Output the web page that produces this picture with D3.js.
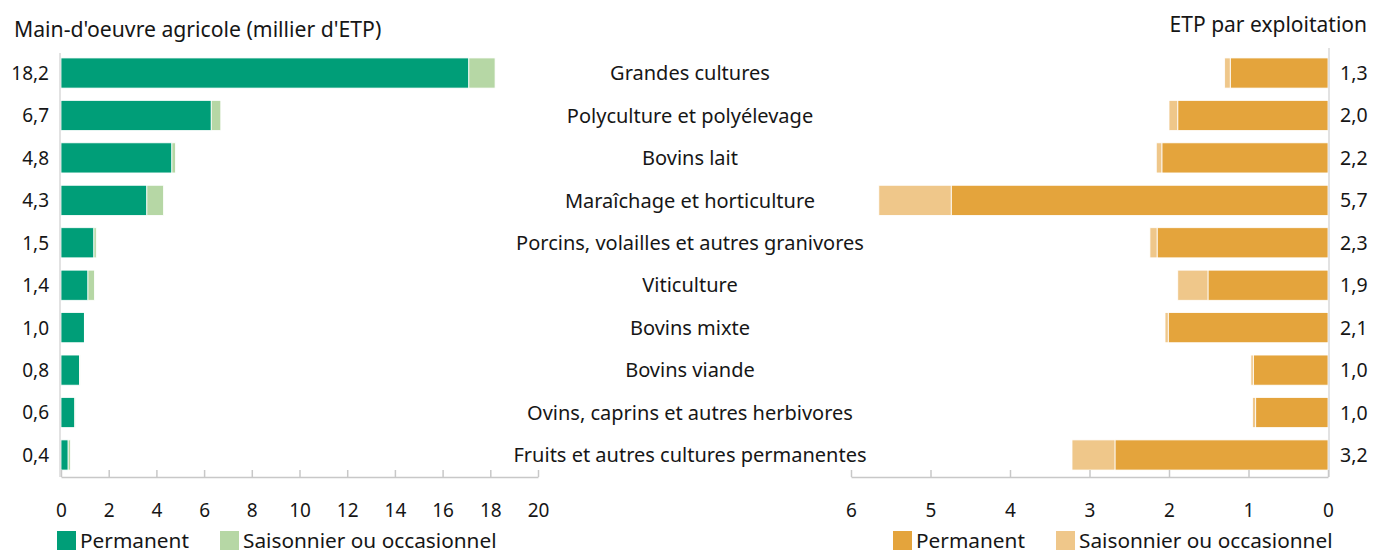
<!DOCTYPE html>
<html>
<head>
<meta charset="utf-8">
<script src="https://cdn.jsdelivr.net/npm/d3@7"></script>
<style>
  body { margin: 0; background: #fff; }
  svg { display: block; font-family: "Noto Sans", sans-serif; }
  text { fill: #161616; }
</style>
</head>
<body>
<div id="chart"></div>
<script>
// data
var categories = [
  "Grandes cultures",
  "Polyculture et polyélevage",
  "Bovins lait",
  "Maraîchage et horticulture",
  "Porcins, volailles et autres granivores",
  "Viticulture",
  "Bovins mixte",
  "Bovins viande",
  "Ovins, caprins et autres herbivores",
  "Fruits et autres cultures permanentes"
];
// main-d'oeuvre (millier d'ETP)
var mainPerm = [17.1, 6.3, 4.65, 3.6, 1.38, 1.13, 0.98, 0.78, 0.58, 0.3];
var mainSais = [1.1, 0.4, 0.15, 0.7, 0.1, 0.27, 0.02, 0.02, 0.02, 0.1];
var mainLabels = ["18,2", "6,7", "4,8", "4,3", "1,5", "1,4", "1,0", "0,8", "0,6", "0,4"];
// ETP par exploitation
var etpPerm = [1.23, 1.89, 2.09, 4.74, 2.15, 1.51, 2.01, 0.94, 0.91, 2.68];
var etpSais = [0.07, 0.11, 0.07, 0.91, 0.09, 0.38, 0.04, 0.03, 0.04, 0.54];
var etpLabels = ["1,3", "2,0", "2,2", "5,7", "2,3", "1,9", "2,1", "1,0", "1,0", "3,2"];
var mainTicks = [0, 2, 4, 6, 8, 10, 12, 14, 16, 18, 20];
var etpTicks = [0, 1, 2, 3, 4, 5, 6];
var seriesNames = ["Permanent", "Saisonnier ou occasionnel"];

var W = 1373, H = 552;
var green = ["#009e78", "#b6d7a5"];
var orange = ["#e4a43c", "#efc78a"];

var svg = d3.select("#chart").append("svg")
    .attr("width", W)
    .attr("height", H);

var y = d3.scaleBand()
    .domain(categories)
    .range([51.8, 476.2])
    .paddingInner(0.29)
    .paddingOuter(0.145);

var xL = d3.scaleLinear().domain([0, 20]).range([61, 538]);
var xR = d3.scaleLinear().domain([0, 6]).range([1328, 851]);
var axisY = 477;

// titles
svg.append("text")
    .attr("x", 14).attr("y", 37)
    .style("font-size", "21.2px")
    .text("Main-d'oeuvre agricole (millier d'ETP)");
svg.append("text")
    .attr("x", 1367).attr("y", 32)
    .attr("text-anchor", "end")
    .style("font-size", "21px")
    .text("ETP par exploitation");

// build stacked rows
function rows(perm, sais) {
  return categories.map(function(c, i) {
    return {cat: c, perm: perm[i], sais: sais[i]};
  });
}

// left panel
var left = svg.append("g");
left.selectAll(".perm").data(rows(mainPerm, mainSais)).enter().append("rect")
    .attr("x", xL(0))
    .attr("y", function(d) { return y(d.cat); })
    .attr("width", function(d) { return xL(d.perm) - xL(0); })
    .attr("height", y.bandwidth())
    .attr("fill", green[0])
    .attr("stroke", "#fff").attr("stroke-width", 0.8);
left.selectAll(".sais").data(rows(mainPerm, mainSais)).enter().append("rect")
    .attr("x", function(d) { return xL(d.perm); })
    .attr("y", function(d) { return y(d.cat); })
    .attr("width", function(d) { return xL(d.perm + d.sais) - xL(d.perm); })
    .attr("height", y.bandwidth())
    .attr("fill", green[1])
    .attr("stroke", "#fff").attr("stroke-width", 0.8);

left.append("line")
    .attr("x1", 60).attr("x2", 60)
    .attr("y1", 53).attr("y2", axisY)
    .attr("stroke", "#d9d9d9").attr("stroke-width", 1.5);

left.selectAll(".vlab").data(mainLabels).enter().append("text")
    .attr("x", 49)
    .attr("y", function(d, i) { return y(categories[i]) + y.bandwidth() / 2; })
    .attr("dy", "0.36em")
    .attr("text-anchor", "end")
    .style("font-size", "19px")
    .text(function(d) { return d; });

// right panel
var right = svg.append("g");
right.selectAll(".perm").data(rows(etpPerm, etpSais)).enter().append("rect")
    .attr("x", function(d) { return xR(d.perm); })
    .attr("y", function(d) { return y(d.cat); })
    .attr("width", function(d) { return xR(0) - xR(d.perm); })
    .attr("height", y.bandwidth())
    .attr("fill", orange[0])
    .attr("stroke", "#fff").attr("stroke-width", 0.8);
right.selectAll(".sais").data(rows(etpPerm, etpSais)).enter().append("rect")
    .attr("x", function(d) { return xR(d.perm + d.sais); })
    .attr("y", function(d) { return y(d.cat); })
    .attr("width", function(d) { return xR(d.perm) - xR(d.perm + d.sais); })
    .attr("height", y.bandwidth())
    .attr("fill", orange[1])
    .attr("stroke", "#fff").attr("stroke-width", 0.8);

right.append("line")
    .attr("x1", 1329).attr("x2", 1329)
    .attr("y1", 48).attr("y2", axisY)
    .attr("stroke", "#d9d9d9").attr("stroke-width", 1.5);

right.selectAll(".vlab").data(etpLabels).enter().append("text")
    .attr("x", 1340)
    .attr("y", function(d, i) { return y(categories[i]) + y.bandwidth() / 2; })
    .attr("dy", "0.36em")
    .style("font-size", "19.5px")
    .text(function(d) { return d; });

// category names in the middle
svg.selectAll(".cat").data(categories).enter().append("text")
    .attr("x", 690)
    .attr("y", function(d) { return y(d) + y.bandwidth() / 2; })
    .attr("dy", "0.36em")
    .attr("text-anchor", "middle")
    .style("font-size", "20px")
    .text(function(d) { return d; });

// bottom axes
function styleAxis(g) {
  g.select(".domain").attr("stroke", "#c8c8c8").attr("stroke-width", 1.5);
  g.selectAll(".tick line").attr("stroke", "#c8c8c8").attr("stroke-width", 1.5);
  g.selectAll(".tick text").style("font-size", "19px").style("font-family", "Noto Sans").attr("fill", "#161616");
}
svg.append("g")
    .attr("transform", "translate(0," + axisY + ")")
    .call(d3.axisBottom(xL).tickValues(mainTicks).tickFormat(d3.format("d"))
      .tickSizeInner(-7).tickSizeOuter(0).tickPadding(27))
    .call(styleAxis);
svg.append("g")
    .attr("transform", "translate(0," + axisY + ")")
    .call(d3.axisBottom(xR).tickValues(etpTicks).tickFormat(d3.format("d"))
      .tickSizeInner(-7).tickSizeOuter(0).tickPadding(27))
    .call(styleAxis);

// legends
function legend(x0, gap, colors) {
  var g = svg.append("g").attr("transform", "translate(" + x0 + ",531)");
  var items = g.selectAll("g").data(seriesNames).enter().append("g")
      .attr("transform", function(d, i) { return "translate(" + (i * gap) + ",0)"; });
  items.append("rect")
      .attr("width", 19).attr("height", 19)
      .attr("fill", function(d, i) { return colors[i]; });
  items.append("text")
      .attr("x", 23).attr("y", 16.5)
      .style("font-size", "20.8px")
      .text(function(d) { return d; });
}
legend(57, 163, green);
legend(893, 163, orange);
</script>
</body>
</html>
